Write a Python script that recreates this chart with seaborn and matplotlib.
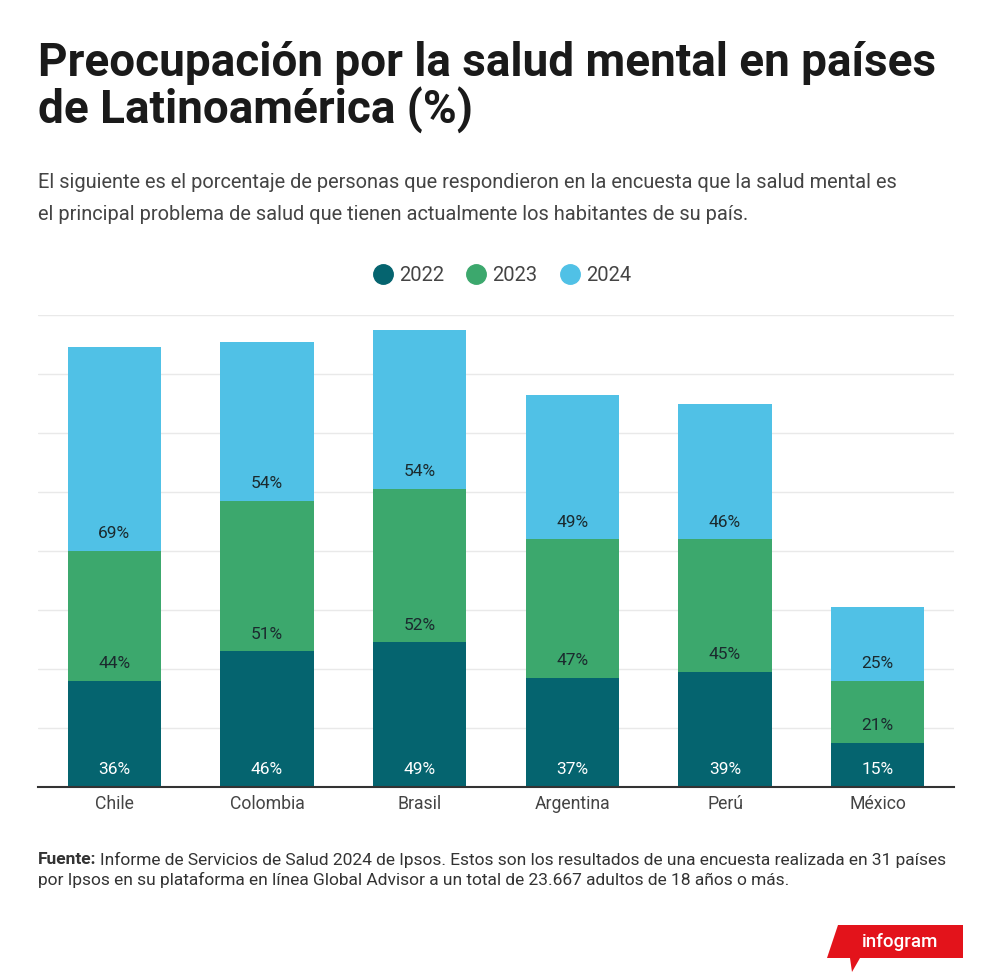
import matplotlib
matplotlib.use("Agg")
import matplotlib.pyplot as plt
import seaborn as sns
import pandas as pd
import numpy as np
from matplotlib.lines import Line2D
from matplotlib.patches import Polygon

# ---- data ----
countries = ["Chile", "Colombia", "Brasil", "Argentina", "Perú", "México"]
years = ["2022", "2023", "2024"]
v2022 = [36, 46, 49, 37, 39, 15]
v2023 = [44, 51, 52, 47, 45, 21]
v2024 = [69, 54, 54, 49, 46, 25]

colors = {"2022": "#05646F", "2023": "#3CA86D", "2024": "#50C1E6"}
label_colors = {"2022": "#FFFFFF", "2023": "#1B2A2E", "2024": "#1B2A2E"}

sns.set_theme(style="white")
plt.rcParams["font.family"] = ["Roboto", "DejaVu Sans"]

df = pd.DataFrame({"pais": countries, "2022": v2022, "2023": v2023, "2024": v2024})
df["c1"] = df["2022"]
df["c2"] = df["2022"] + df["2023"]
df["c3"] = df["c2"] + df["2024"]

fig = plt.figure(figsize=(10, 9.75), dpi=100)
fig.patch.set_facecolor("white")
ax = fig.add_axes([0.038, 1 - 787 / 975, 0.916, (787 - 315) / 975])

# stacked via cumulative layers (tallest first)
for col, yr in [("c3", "2024"), ("c2", "2023"), ("c1", "2022")]:
    sns.barplot(data=df, x="pais", y=col, color=colors[yr], width=0.61,
                saturation=1, ax=ax, zorder=2, linewidth=0)

ax.set_ylim(0, 160)
ax.set_xlim(-0.5, len(countries) - 0.5)
ax.set_yticks(np.arange(0, 161, 20))
ax.yaxis.grid(True, color="#E9E9E9", linewidth=1, zorder=0)
ax.set_axisbelow(True)
ax.tick_params(axis="y", left=False, labelleft=False)
ax.tick_params(axis="x", bottom=False, labelsize=12.7, labelcolor="#444444", pad=0)
ax.set_xlabel("")
ax.set_ylabel("")
for s in ["top", "right", "left"]:
    ax.spines[s].set_visible(False)
ax.spines["bottom"].set_color("#333333")
ax.spines["bottom"].set_linewidth(1.5)
ax.spines["bottom"].set_zorder(5)

# value labels at the bottom of each segment
for i in range(len(countries)):
    bottoms = [0, df["c1"][i], df["c2"][i]]
    vals = [v2022[i], v2023[i], v2024[i]]
    for b, v, yr in zip(bottoms, vals, years):
        ax.annotate(f"{v}%", xy=(i, b), xytext=(0, 12.3), textcoords="offset points",
                    ha="center", va="center", fontsize=12.5, color=label_colors[yr], zorder=6)

# title & subtitle
fig.text(0.038, 1 - 63 / 975, "Preocupación por la salud mental en países",
         fontsize=33, fontweight="bold", color="#1A1A1A", va="center", ha="left")
fig.text(0.038, 1 - 110 / 975, "de Latinoamérica (%)",
         fontsize=33, fontweight="bold", color="#1A1A1A", va="center", ha="left")
fig.text(0.038, 1 - 183 / 975,
         "El siguiente es el porcentaje de personas que respondieron en la encuesta que la salud mental es",
         fontsize=14.4, color="#444444", va="center", ha="left")
fig.text(0.038, 1 - 214 / 975,
         "el principal problema de salud que tienen actualmente los habitantes de su país.",
         fontsize=14.4, color="#444444", va="center", ha="left")

# legend
handles = [Line2D([0], [0], marker="o", linestyle="", markersize=14,
                  markerfacecolor=colors[y], markeredgecolor=colors[y]) for y in years]
fig.legend(handles, years, loc="center", bbox_to_anchor=(0.500, 1 - 276 / 975),
           ncol=3, frameon=False, fontsize=14.5, handletextpad=0.1, columnspacing=0.9,
           handlelength=1.4, labelcolor="#444444")

# footer
fy1 = 1 - 860 / 975
ft = fig.text(0.038, fy1, "Fuente:", fontsize=12.5, fontweight="bold",
              color="#333333", va="center", ha="left")
fig.canvas.draw()
bb = ft.get_window_extent(renderer=fig.canvas.get_renderer())
x_after = (bb.x1 + 4) / 1000
fig.text(x_after, fy1,
         "Informe de Servicios de Salud 2024 de Ipsos. Estos son los resultados de una encuesta realizada en 31 países",
         fontsize=12.5, color="#333333", va="center", ha="left")
fig.text(0.038, 1 - 880 / 975,
         "por Ipsos en su plataforma en línea Global Advisor a un total de 23.667 adultos de 18 años o más.",
         fontsize=12.5, color="#333333", va="center", ha="left")

# infogram badge
H = 975.0
pts = [(838, 925), (963, 925), (963, 958), (860, 958), (852, 972), (850, 958), (827, 958)]
poly = Polygon([(x / 1000, 1 - y / H) for x, y in pts], closed=True,
               transform=fig.transFigure, facecolor="#E3131B", edgecolor="none")
fig.patches.append(poly)
fig.text(0.900, 1 - 942 / H, "infogram", fontsize=13.5, fontweight="medium",
         color="white", va="center", ha="center")

fig.savefig("out.png", dpi=100, facecolor="white")
